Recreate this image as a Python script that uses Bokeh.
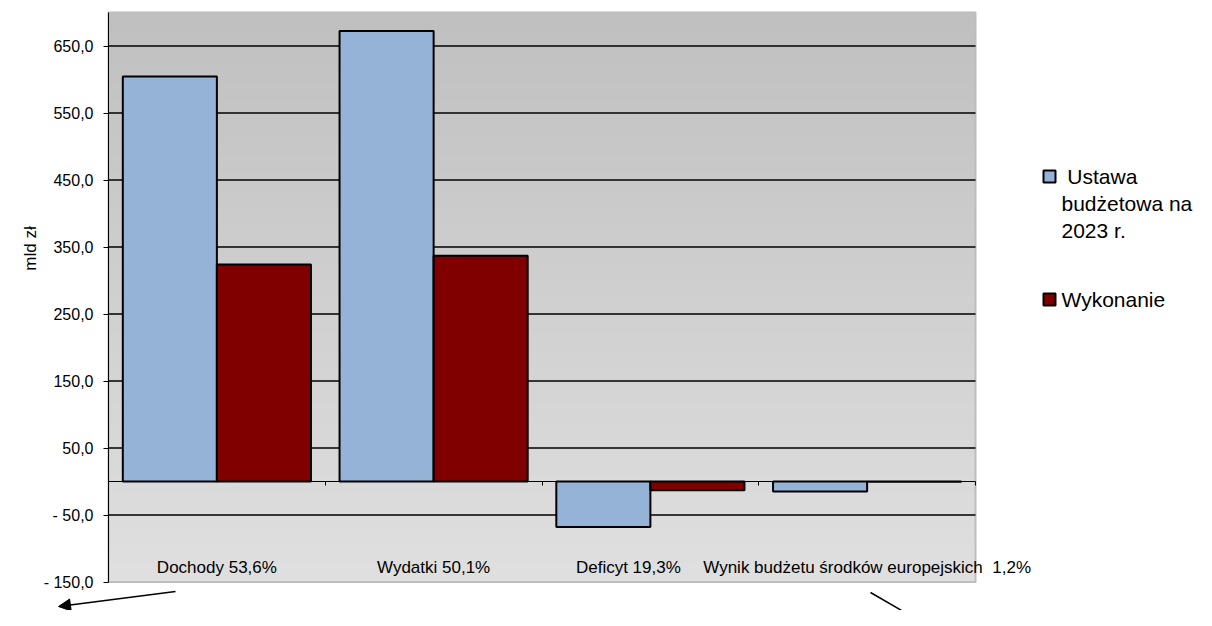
import numpy as np
from bokeh.plotting import figure
from bokeh.models import Range1d, FixedTicker, Arrow, NormalHead, ColumnDataSource
from bokeh.core.properties import value
from bokeh.embed import file_html
from bokeh.resources import INLINE

# ---------------- data ----------------
categories = ["Dochody 53,6%", "Wydatki 50,1%", "Deficyt 19,3%",
              "Wynik budżetu środków europejskich  1,2%"]
ustawa = [604.5, 672.5, -68.0, -15.0]
wykonanie = [324.0, 336.9, -13.1, -0.2]
series_names = [" Ustawa", "Wykonanie"]
legend_extra_lines = ["budżetowa na", "2023 r."]
y_ticks = [-150, -50, 50, 150, 250, 350, 450, 550, 650]
y_tick_labels = ["- 150,0", "- 50,0", "50,0", "150,0", "250,0", "350,0",
                 "450,0", "550,0", "650,0"]
y_axis_title = "mld zł"
Y_MIN, Y_MAX = -150, 700

# ---------------- layout / style ----------------
FONT = "Liberation Sans"
BLUE = "#95B3D7"
RED = "#800000"
BAR_W = 0.434
label_x_offsets = [0, 0, -22, 0]

W, H = 1196, 610
PL, PR, PT, PB = 108.0, 975.0, 12.0, 581.5   # plot-area box in canvas px
n = len(categories)
sx = (PR - PL) / n
sy = (PB - PT) / (Y_MAX - Y_MIN)


def fx(px):
    return (px - PL) / sx


def fy(py):
    return Y_MAX - (py - PT) / sy


def keep_spaces(s):
    # SVG collapses runs of blanks; keep them visible with no-break spaces
    out = s.replace("  ", " \u00a0")
    if out.startswith(" "):
        out = "\u00a0" + out[1:]
    return out


centers = np.arange(n) + 0.5

p = figure(width=W, height=H, title=None,
           x_range=Range1d(fx(0), fx(W)), y_range=Range1d(fy(H), fy(0)),
           output_backend="svg", toolbar_location=None, min_border=0,
           border_fill_color="white", background_fill_color="white")
p.outline_line_color = None
p.xgrid.visible = False
p.ygrid.visible = False

# gradient background of plot area
N = 256
t = np.linspace(0, 1, N)  # 0 bottom -> 1 top
g = (224 - 32 * t).astype(np.uint8)
img = np.empty((N, 1), dtype=np.uint32)
view = img.view(dtype=np.uint8).reshape((N, 1, 4))
view[:, 0, 0] = g
view[:, 0, 1] = g
view[:, 0, 2] = g
view[:, 0, 3] = 255
p.image_rgba(image=[img], x=0, y=Y_MIN, dw=n, dh=Y_MAX - Y_MIN, level="image")
p.quad(left=0, right=n, bottom=Y_MIN, top=Y_MAX, fill_color=None,
       line_color="#bdbdbd", line_width=2, level="underlay")

# grid lines
grid_y = [v for v in y_ticks if v > Y_MIN]
p.segment(x0=[0] * len(grid_y), x1=[n] * len(grid_y), y0=grid_y, y1=grid_y,
          line_color="black", line_width=1.4, level="underlay")

# bars
src = ColumnDataSource(dict(xb=centers - BAR_W / 2, xr=centers + BAR_W / 2,
                            ustawa=ustawa, wykonanie=wykonanie))
p.vbar(x="xb", width=BAR_W, top="ustawa", bottom=0, source=src,
       fill_color=BLUE, line_color="black", line_width=2)
p.vbar(x="xr", width=BAR_W, top="wykonanie", bottom=0, source=src,
       fill_color=RED, line_color="black", line_width=2)

# category labels (inside plot area, near bottom)
lab_src = ColumnDataSource(dict(x=centers, y=[Y_MIN] * n,
                                text=[keep_spaces(c) for c in categories],
                                xo=label_x_offsets))
p.text(x="x", y="y", text="text", x_offset="xo", y_offset=-15, source=lab_src,
       text_font=value(FONT), text_font_size="17px", text_color="black",
       text_align="center", text_baseline="middle")

# y axis (at x = 0)
p.yaxis.fixed_location = 0
p.yaxis.bounds = (Y_MIN, Y_MAX)
p.yaxis.ticker = FixedTicker(ticks=y_ticks)
p.yaxis.major_label_overrides = dict(zip(y_ticks, y_tick_labels))
p.yaxis.major_label_text_font = FONT
p.yaxis.major_label_text_font_size = "16px"
p.yaxis.major_label_text_color = "black"
p.yaxis.major_label_standoff = 10
p.yaxis.major_tick_out = 5
p.yaxis.major_tick_in = 0
p.yaxis.minor_tick_line_color = None
p.yaxis.axis_line_color = "black"
p.yaxis.major_tick_line_color = "black"

# x axis crossing at zero
x_ticks = list(range(n + 1))
p.xaxis.fixed_location = 0
p.xaxis.bounds = (0, n)
p.xaxis.ticker = FixedTicker(ticks=x_ticks)
p.xaxis.major_label_overrides = {k: "" for k in x_ticks}
p.xaxis.major_tick_out = 4
p.xaxis.major_tick_in = 0
p.xaxis.minor_tick_line_color = None
p.xaxis.axis_line_color = "black"
p.xaxis.major_tick_line_color = "black"

# y axis title
p.text(x=[fx(30)], y=[fy(248)], text=[y_axis_title], angle=np.pi / 2,
       text_font=value(FONT), text_font_size="17px", text_color="black",
       text_align="center", text_baseline="middle")

# legend (drawn by hand to match the reference layout)
p.rect(x=[fx(1049), fx(1049)], y=[fy(176), fy(299)], width=12, height=12,
       width_units="screen", height_units="screen",
       fill_color=[BLUE, RED], line_color="black", line_width=2)
leg_text = [keep_spaces(series_names[0])] + legend_extra_lines + [series_names[1]]
leg_y = [fy(176), fy(203), fy(230), fy(299)]
p.text(x=[fx(1061)] * 4, y=leg_y, text=leg_text,
       text_font=value(FONT), text_font_size="21px", text_color="black",
       text_align="left", text_baseline="middle")

# arrows below the chart
p.add_layout(Arrow(end=NormalHead(size=12, fill_color="black", line_color="black"),
                   x_start=fx(175), y_start=fy(591), x_end=fx(58), y_end=fy(606),
                   line_color="black", line_width=1.5))
p.add_layout(Arrow(end=None, x_start=fx(870), y_start=fy(592),
                   x_end=fx(953), y_end=fy(640),
                   line_color="black", line_width=1.5))

open("out.html", "w").write(file_html(p, INLINE))
